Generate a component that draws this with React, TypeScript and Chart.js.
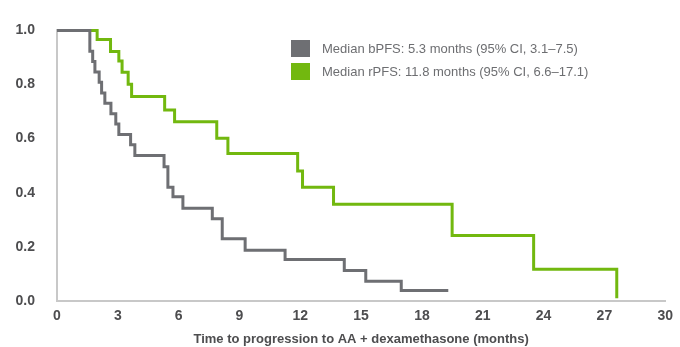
import React, { useEffect, useRef } from "react";
import { Chart, registerables } from "chart.js";

Chart.register(...registerables);

const bpfsTimes = [0, 1.62, 1.76, 1.87, 2.08, 2.2, 2.36, 2.66, 2.9, 3.05, 3.63, 3.84, 5.28, 5.47, 5.72, 6.21, 7.66, 8.15, 9.28, 11.25, 14.17, 15.23, 16.98, 19.3];
const bpfsValues = [1.0, 0.923, 0.885, 0.846, 0.808, 0.769, 0.731, 0.692, 0.654, 0.615, 0.577, 0.538, 0.496, 0.42, 0.385, 0.343, 0.304, 0.23, 0.188, 0.153, 0.113, 0.073, 0.039, 0.039];

const rpfsTimes = [0, 1.98, 2.64, 3.05, 3.21, 3.51, 3.68, 5.31, 5.8, 7.88, 8.43, 11.87, 12.11, 13.64, 19.49, 23.51, 27.61];
const rpfsValues = [1.0, 0.966, 0.922, 0.887, 0.845, 0.801, 0.756, 0.706, 0.662, 0.601, 0.545, 0.48, 0.42, 0.358, 0.242, 0.117, 0.01];

const xTicks = [0, 3, 6, 9, 12, 15, 18, 21, 24, 27, 30];
const yTicks = [0, 0.2, 0.4, 0.6, 0.8, 1.0];

const legendLabels = [
  "Median bPFS: 5.3 months (95% CI, 3.1–7.5)",
  "Median rPFS: 11.8 months (95% CI, 6.6–17.1)",
];
const seriesColors = ["#6e6f73", "#72b80f"];

const FONT = '"Liberation Sans", Arial, sans-serif';

export default function App() {
  const ref = useRef<HTMLCanvasElement | null>(null);

  useEffect(() => {
    if (!ref.current) return;
    const chart = new Chart(ref.current, {
      type: "line",
      data: {
        datasets: [
          {
            label: legendLabels[0],
            data: bpfsTimes.map((t, i) => ({ x: t, y: bpfsValues[i] })),
            borderColor: seriesColors[0],
            backgroundColor: seriesColors[0],
            borderWidth: 3,
            stepped: "before",
            pointRadius: 0,
            fill: false,
            clip: false,
          },
          {
            label: legendLabels[1],
            data: rpfsTimes.map((t, i) => ({ x: t, y: rpfsValues[i] })),
            borderColor: seriesColors[1],
            backgroundColor: seriesColors[1],
            borderWidth: 3,
            stepped: "before",
            pointRadius: 0,
            fill: false,
            clip: false,
          },
        ],
      },
      options: {
        animation: false,
        responsive: false,
        devicePixelRatio: 1,
        layout: { padding: { top: 21, right: 13, left: 0, bottom: 0 } },
        plugins: { legend: { display: false }, tooltip: { enabled: false } },
        scales: {
          x: {
            type: "linear",
            min: 0,
            max: 30,
            afterBuildTicks: (s: any) => {
              s.ticks = xTicks.map((v) => ({ value: v }));
            },
            afterFit: (s: any) => {
              s.height = 46;
            },
            ticks: {
              font: { family: FONT, size: 14, weight: "bold" },
              color: "#4d4d4f",
              padding: 7,
              maxRotation: 0,
              autoSkip: false,
            },
            grid: { display: false, drawTicks: false },
            border: { display: true, color: "#c8c8c8", width: 2 },
            title: {
              display: true,
              text: "Time to progression to AA + dexamethasone (months)",
              font: { family: FONT, size: 13, weight: "bold" },
              color: "#4d4d4f",
              padding: { top: 0, bottom: 0 },
            },
          },
          y: {
            type: "linear",
            min: 0,
            max: 1,
            afterBuildTicks: (s: any) => {
              s.ticks = yTicks.map((v) => ({ value: v }));
            },
            afterFit: (s: any) => {
              s.width = 57;
            },
            ticks: {
              font: { family: FONT, size: 14, weight: "bold" },
              color: "#4d4d4f",
              padding: 22,
              callback: (v: any) => Number(v).toFixed(1),
            },
            grid: { display: false, drawTicks: false },
            border: { display: true, color: "#c8c8c8", width: 2 },
          },
        },
      },
    });
    return () => chart.destroy();
  }, []);

  return (
    <div style={{ position: "absolute", left: 0, top: 0, width: 680, height: 347, background: "#fff" }}>
      <canvas ref={ref} width={680} height={347} style={{ display: "block" }} />
      {legendLabels.map((lab, i) => (
        <div
          key={lab}
          style={{
            position: "absolute",
            left: 291,
            top: 40 + i * 22.7,
            height: 17,
            display: "flex",
            alignItems: "center",
            whiteSpace: "nowrap",
          }}
        >
          <div style={{ width: 19, height: 17, background: seriesColors[i], marginRight: 12 }} />
          <span style={{ fontFamily: FONT, fontSize: 13, color: "#6d6e71", lineHeight: "17px" }}>{lab}</span>
        </div>
      ))}
    </div>
  );
}
